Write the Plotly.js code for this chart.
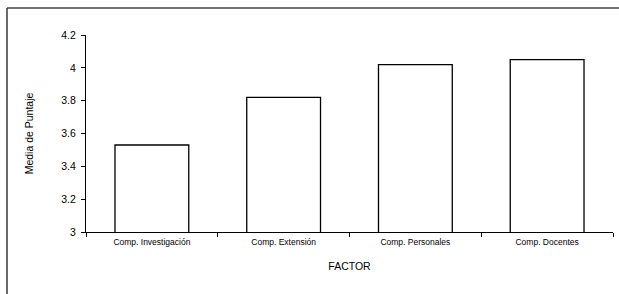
<!DOCTYPE html>
<html><head><meta charset="utf-8">
<script src="https://cdn.plot.ly/plotly-3.0.1.min.js"></script>
<style>html,body{margin:0;padding:0;background:#fff}#chart{width:619px;height:294px}</style>
</head><body><div id="chart"></div>
<script>
const categories = ["Comp. Investigación", "Comp. Extensión", "Comp. Personales", "Comp. Docentes"];
const values = [3.53, 3.82, 4.02, 4.05];
const yTicks = [3, 3.2, 3.4, 3.6, 3.8, 4, 4.2];
const yTickLabels = ["3", "3.2", "3.4", "3.6", "3.8", "4", "4.2"];

const L = 86, R = 6, T = 35, B = 62, W = 619, H = 294;
const pw = W - L - R, ph = H - T - B;
const fx = (7 - L) / pw, fy = (H - B - 8) / ph;

Plotly.newPlot('chart', [{
  type: 'bar', x: categories, y: values,
  marker: {color: '#ffffff', line: {color: '#000000', width: 1.3}},
  hoverinfo: 'skip'
}], {
  width: W, height: H,
  margin: {l: L, r: R, t: T, b: B, pad: 0},
  paper_bgcolor: '#fff', plot_bgcolor: '#fff',
  bargap: 0.44,
  font: {family: 'Liberation Sans, Arial, sans-serif', color: '#000'},
  xaxis: {
    type: 'category', showgrid: false, zeroline: false,
    showline: true, linecolor: '#000', linewidth: 1,
    ticks: 'outside', ticklen: 4, tickcolor: '#000', tickson: 'boundaries',
    tickfont: {size: 8.5}, ticklabelstandoff: 2,
    title: {text: 'FACTOR', font: {size: 10.5}, standoff: 16}
  },
  yaxis: {
    range: [3, 4.2], showgrid: false, zeroline: false,
    showline: true, linecolor: '#000', linewidth: 1,
    ticks: 'outside', ticklen: 4, tickcolor: '#000',
    tickvals: yTicks, ticktext: yTickLabels,
    tickfont: {size: 10.5}, ticklabelstandoff: 3,
    title: {text: 'Media de Puntaje', font: {size: 10.5}, standoff: 25}
  },
  shapes: [
    {type: 'line', xref: 'paper', yref: 'paper', x0: fx, x1: fx, y0: -1, y1: fy, line: {color: '#444', width: 1.6}},
    {type: 'line', xref: 'paper', yref: 'paper', x0: fx, x1: 1.0114, y0: fy, y1: fy, line: {color: '#444', width: 1.6}}
  ],
  showlegend: false
}, {staticPlot: true, displayModeBar: false});
</script></body></html>
